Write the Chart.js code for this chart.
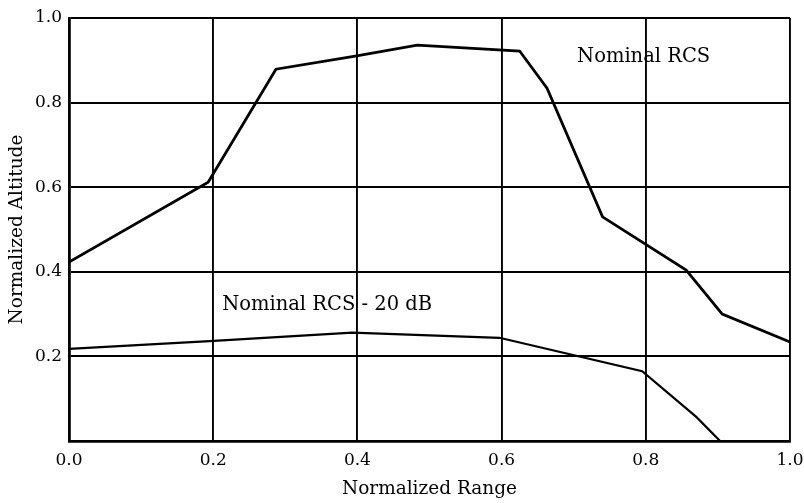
<!DOCTYPE html>
<html>
<head>
<meta charset="utf-8">
<script src="https://cdn.jsdelivr.net/npm/chart.js@4"></script>
<style>
  html, body { margin: 0; padding: 0; background: #fff; }
  #wrap { width: 804px; height: 503px; }
</style>
</head>
<body>
<div id="wrap"><canvas id="rcs"></canvas></div>
<script>
// values
var nominal_x = [0.0, 0.193, 0.287, 0.397, 0.483, 0.625, 0.663, 0.740, 0.856, 0.906, 1.0];
var nominal_y = [0.423, 0.612, 0.879, 0.910, 0.936, 0.922, 0.834, 0.530, 0.404, 0.300, 0.234];

var minus20_x = [0.0, 0.195, 0.393, 0.597, 0.795, 0.870, 0.903];
var minus20_y = [0.218, 0.236, 0.256, 0.244, 0.165, 0.057, 0.0];

var x_ticks = [0.0, 0.2, 0.4, 0.6, 0.8, 1.0];
var y_ticks = [0.2, 0.4, 0.6, 0.8, 1.0];

var labels = [
  { text: "Nominal RCS", x: 0.797, y: 0.908 },
  { text: "Nominal RCS - 20 dB", x: 0.358, y: 0.322 },
];

var serif = "'DejaVu Serif', 'Liberation Serif', serif";

function pairs(xs, ys) {
  return xs.map(function (v, i) {
    return { x: v, y: ys[i] };
  });
}

// writes the two curve names in data coordinates
const curveLabels = {
  id: "curveLabels",
  afterDatasetsDraw(chart) {
    const c = chart.ctx;
    c.save();
    c.font = "19.5px " + serif;
    c.fillStyle = "#000";
    c.textAlign = "center";
    c.textBaseline = "middle";
    labels.forEach(function (l) {
      c.fillText(l.text, chart.scales.x.getPixelForValue(l.x), chart.scales.y.getPixelForValue(l.y));
    });
    c.restore();
  },
};

const ctx = document.getElementById("rcs");

const chart = new Chart(ctx, {
  type: "line",
  data: {
    datasets: [
      {
        label: "Nominal RCS",
        data: pairs(nominal_x, nominal_y),
        borderColor: "#000",
        borderWidth: 2.8,
        pointRadius: 0,
        tension: 0,
      },
      {
        label: "Nominal RCS - 20 dB",
        data: pairs(minus20_x, minus20_y),
        borderColor: "#000",
        borderWidth: 2.2,
        pointRadius: 0,
        tension: 0,
      },
    ],
  },
  plugins: [curveLabels],
  options: {
    responsive: true,
    maintainAspectRatio: false,
    animation: false,
    layout: {
      padding: { top: 18, right: 14, left: 6, bottom: 0 },
    },
    plugins: {
      legend: { display: false },
      tooltip: { enabled: false },
    },
    scales: {
      x: {
        type: "linear",
        min: 0,
        max: 1,
        afterBuildTicks: function (axis) {
          axis.ticks = x_ticks.map(function (v) { return { value: v }; });
        },
        afterFit: function (axis) {
          axis.height = 62;
          axis.paddingLeft = 0;
          axis.paddingRight = 0;
        },
        grid: { color: "#000", lineWidth: 1.9, drawTicks: false },
        border: { color: "#000", width: 2.8 },
        ticks: {
          color: "#000",
          padding: 9,
          font: { family: serif, size: 17 },
          callback: function (v) { return Number(v).toFixed(1); },
        },
        title: {
          display: true,
          text: "Normalized Range",
          color: "#000",
          font: { family: serif, size: 18.5 },
          padding: { top: 6, bottom: 3 },
        },
      },
      y: {
        min: 0,
        max: 1,
        afterBuildTicks: function (axis) {
          axis.ticks = [0].concat(y_ticks).map(function (v) { return { value: v }; });
        },
        afterFit: function (axis) {
          axis.width = 63;
          axis.paddingTop = 0;
          axis.paddingBottom = 0;
        },
        grid: { color: "#000", lineWidth: 1.9, drawTicks: false },
        border: { color: "#000", width: 2.8 },
        ticks: {
          color: "#000",
          padding: 7,
          font: { family: serif, size: 17 },
          callback: function (v) { return v === 0 ? "" : Number(v).toFixed(1); },
        },
        title: {
          display: true,
          text: "Normalized Altitude",
          color: "#000",
          font: { family: serif, size: 18.5 },
          padding: { top: 0, bottom: 4 },
        },
      },
    },
  },
});
</script>
</body>
</html>
